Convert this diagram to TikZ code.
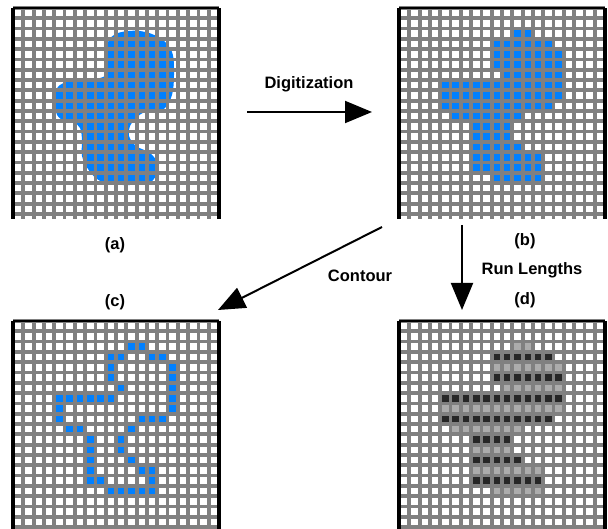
\documentclass[tikz,border=0pt]{standalone}
\usepackage{fontspec}
\setmainfont{Liberation Sans}
\usetikzlibrary{arrows.meta}

\definecolor{pixblue}{RGB}{0,128,255}
\definecolor{gridgray}{RGB}{128,128,128}
\definecolor{rundark}{RGB}{38,38,38}
\definecolor{runlight}{RGB}{172,172,172}

% cell size of the sampling grid
\def\cs{10.3}

% grid of 20 x 20 cells with its frame: #1,#2 = top-left corner, #3 = lower end of the columns
\newcommand{\panelgrid}[3]{%
  \foreach \k in {0,...,20} {
    \draw[gridline] ({#1+\k*\cs},#2) -- ({#1+\k*\cs},#3);
    \draw[gridline] (#1,{#2+\k*\cs}) -- ({#1+20*\cs},{#2+\k*\cs});
  }
  \draw[frameside] (#1,#3) -- (#1,#2);
  \draw[frameside] ({#1+20*\cs},#3) -- ({#1+20*\cs},#2);
  \draw[frametop] (#1,#2) -- ({#1+20*\cs},#2);
}

% run of filled cells: #1,#2 = panel corner, #3 = row, #4..#5 = first..last column, #6 = colour
\newcommand{\cellrun}[6]{%
  \fill[#6] ({#1+#4*\cs},{#2+#3*\cs}) rectangle ({#1+(#5+1)*\cs},{#2+(#3+1)*\cs});
}

\tikzset{
  gridline/.style={draw=gridgray, line width=3.8pt},
  frameside/.style={draw=black, line width=3.5pt},
  frametop/.style={draw=black, line width=1.2pt},
  bigarrow/.style={draw=black, line width=2pt, -{Triangle[length=27pt,width=22pt]}},
  caption/.style={font=\bfseries\fontsize{16.5}{18}\selectfont, inner sep=0pt}
}

\begin{document}
\begin{tikzpicture}[x=1pt,y=-1pt]
\useasboundingbox (0,0) rectangle (608,529);
\fill[white] (0,0) rectangle (608,529);

% (a) continuous shape on the grid
\fill[pixblue] plot[smooth cycle, tension=0.6] coordinates {
  (118,33) (140,31) (160,38) (172,52) (174,75) (172,95) (165,108) (155,112)
  (145,112) (136,118) (130,126) (129,136) (136,146) (150,153) (157,163)
  (156,176) (148,183) (130,185) (110,184) (97,179) (88,169) (82,156) (82,140)
  (80,128) (73,122) (62,120) (56,112) (55,95) (60,85) (75,80) (100,78)
  (107,72) (105,58) (108,42)};
\panelgrid{13}{8}{219}

% (b) digitised shape
\foreach \r/\a/\b in {2/11/12,3/9/14,4/9/15,5/9/15,6/10/15,7/4/15,8/4/15,9/4/14,
                      10/5/11,11/7/10,12/7/10,13/7/11,14/7/13,15/7/13,16/9/13}
  {\cellrun{399}{8}{\r}{\a}{\b}{pixblue}}
\panelgrid{399}{8}{219}

% (c) contour cells
\foreach \r/\a/\b in {2/11/12,3/9/10,3/13/14,4/9/9,4/15/15,5/9/9,5/15/15,6/10/10,6/15/15,
                      7/4/9,7/15/15,8/4/4,8/15/15,9/4/4,9/12/14,10/5/6,10/11/11,
                      11/7/7,11/10/10,12/7/7,12/10/10,13/7/7,13/11/11,14/7/7,14/12/13,
                      15/7/8,15/13/13,16/9/13}
  {\cellrun{13}{321}{\r}{\a}{\b}{pixblue}}
\panelgrid{13}{321}{529}

% (d) run lengths, alternating shades per row
\foreach \r/\a/\b/\c in {2/11/12/runlight,3/9/14/rundark,4/9/15/runlight,5/9/15/rundark,
                         6/10/15/runlight,7/4/15/rundark,8/4/15/runlight,9/4/14/rundark,
                         10/5/11/runlight,11/7/10/rundark,12/7/10/runlight,13/7/11/rundark,
                         14/7/13/runlight,15/7/13/rundark,16/9/13/runlight}
  {\cellrun{399}{321}{\r}{\a}{\b}{\c}}
\panelgrid{399}{321}{529}

% captions
\node[caption] (la) at (115,245) {(a)};
\node[caption] (lb) at (525,241) {(b)};
\node[caption] (lc) at (115,302) {(c)};
\node[caption] (ld) at (525,300) {(d)};
\node[caption] (tdig) at (309,84) {Digitization};
\node[caption] (tcon) at (360,276) {Contour};
\node[caption] (trun) at (532,270) {Run Lengths};

% arrows between the stages
\coordinate (digS) at (247,112);
\coordinate (digE) at (372,112);
\coordinate (runS) at (462,225);
\coordinate (runE) at (462,310);
\coordinate (conS) at (382,227);
\coordinate (conE) at (218,310);
\draw[bigarrow] (digS) -- (digE);
\draw[bigarrow] (runS) -- (runE);
\draw[bigarrow] (conS) -- (conE);
\end{tikzpicture}
\end{document}
